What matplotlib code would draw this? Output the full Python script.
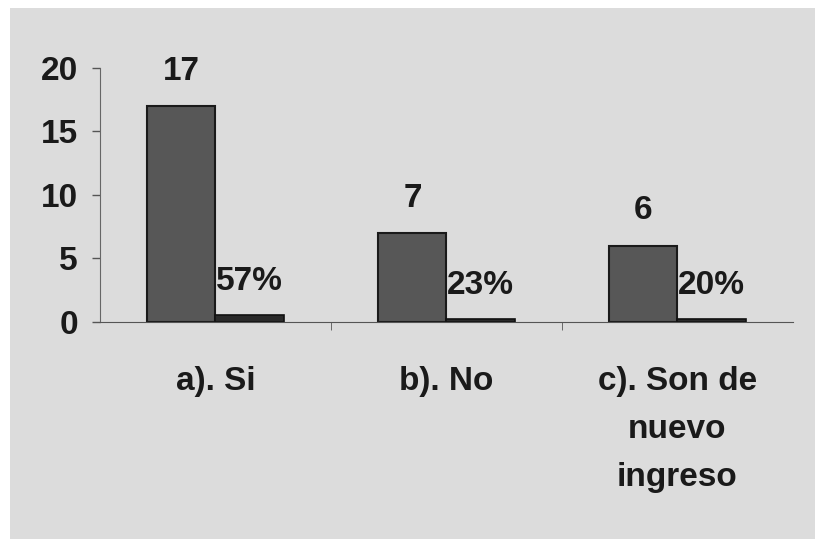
import numpy as np
from matplotlib import pyplot as plt
from matplotlib.patches import Rectangle

categorias = ['a). Si', 'b). No', 'c). Son de\nnuevo\ningreso']
cantidad = [17, 7, 6]
porcentaje = [0.57, 0.23, 0.20]
etiquetas_pct = ['57%', '23%', '20%']
yticks = [0, 5, 10, 15, 20]

plt.rcParams['font.family'] = ['Liberation Sans', 'DejaVu Sans']

fig = plt.figure(figsize=(8.15, 5.39), dpi=100)
fig.patch.set_facecolor('white')
# fondo gris del escaneo
fig.patches.append(Rectangle((0.012, 0.0), 0.988, 0.985, transform=fig.transFigure,
                             facecolor='#dcdcdc', edgecolor='none', zorder=-10))

ax = fig.add_axes([0.1227, 0.4026, 0.8503, 0.4714])
ax.set_facecolor('none')

x = np.arange(len(categorias))
w = 0.295
b1 = ax.bar(x - w / 2, cantidad, w, color='#575757', edgecolor='#1a1a1a', linewidth=1.5)
b2 = ax.bar(x + w / 2, porcentaje, w, color='#2a2a2a', edgecolor='#111111', linewidth=1.2)

for r, v in zip(b1, cantidad):
    ax.annotate(str(v), (r.get_x() + r.get_width() / 2, v), xytext=(0, 14),
                textcoords='offset points', ha='center', va='bottom',
                fontsize=24, fontweight='bold', color='#1a1a1a')
for r, v, t in zip(b2, porcentaje, etiquetas_pct):
    ax.annotate(t, (r.get_x() + r.get_width() / 2, v), xytext=(0, 13),
                textcoords='offset points', ha='center', va='bottom',
                fontsize=24, fontweight='bold', color='#1a1a1a')

ax.set_xlim(-0.5, 2.5)
ax.set_ylim(0, 20)
ax.set_yticks(yticks)
ax.set_yticklabels([str(t) for t in yticks], fontsize=24, fontweight='bold', color='#1a1a1a')
ax.tick_params(axis='y', length=6, width=1, color='#555555', pad=10)

# ticks de separacion de categorias
ax.set_xticks([0.5, 1.5], minor=True)
ax.tick_params(axis='x', which='minor', length=6, direction='out', color='#555555')
ax.set_xticks(x)
ax.set_xticklabels(categorias, fontsize=24, fontweight='bold', color='#1a1a1a',
                   linespacing=1.7, va='top')
ax.tick_params(axis='x', which='major', length=0, pad=32)

for s in ['top', 'right']:
    ax.spines[s].set_visible(False)
ax.spines['left'].set_color('#666666')
ax.spines['bottom'].set_color('#555555')

plt.savefig('out.png', dpi=100, facecolor=fig.get_facecolor())
